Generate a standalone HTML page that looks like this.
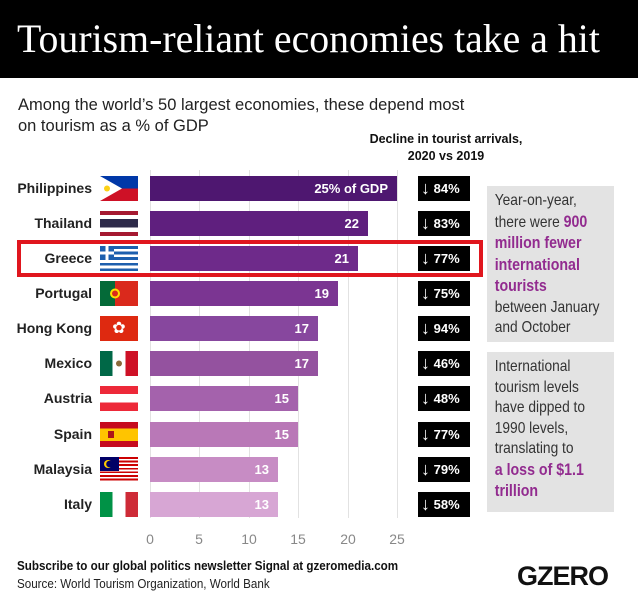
<!DOCTYPE html>
<html><head><meta charset="utf-8"><style>
*{margin:0;padding:0;box-sizing:border-box}
body{width:638px;height:599px;background:#fff;font-family:"Liberation Sans",sans-serif;position:relative;overflow:hidden}
.abs{position:absolute}
.title{left:0;top:0;width:638px;height:78px;background:#000;color:#fff;font-family:"Liberation Serif",serif;font-size:39.8px;line-height:78px;padding-left:17px;white-space:nowrap}
.sub{left:18px;top:95px;font-size:16.5px;line-height:21px;color:#222}
.dh{left:362px;top:131px;width:168px;text-align:center;font-size:12.5px;font-weight:bold;line-height:17px;color:#111}
.grid{top:170px;width:1px;height:348px;background:#e2e2e2}
.name{width:92px;text-align:right;font-size:14px;font-weight:bold;color:#222;left:0}
.bar{left:150px;height:25px;color:#fff;font-weight:bold;font-size:13px;text-align:right;padding-right:9px;line-height:25px}
.flag{left:100px;width:38px;height:25px;overflow:hidden}
.badge{left:418px;width:52px;height:25px;background:#000;color:#fff;font-weight:bold;font-size:13px;line-height:25px;padding-left:3px;white-space:nowrap}
.badge span{font-size:18px;vertical-align:-1px}
.tick{top:531px;font-size:14px;color:#888;width:30px;text-align:center}
.box{left:487px;width:127px;background:#e3e3e3;overflow:hidden}
.box div{width:160px;transform:scaleX(0.86);transform-origin:0 0;font-size:16px;line-height:20.5px;color:#333;padding:5px 0 0 9px;white-space:nowrap}
.box b{color:#922b8f;font-size:16.5px}
</style></head><body>
<div class="abs title">Tourism-reliant economies take a hit</div>
<div class="abs sub">Among the world’s 50 largest economies, these depend most<br>on tourism as a % of GDP</div>
<div class="abs dh">Decline in tourist arrivals,<br>2020 vs 2019</div>
<div class="abs grid" style="left:150px"></div>
<div class="abs grid" style="left:199px"></div>
<div class="abs grid" style="left:249px"></div>
<div class="abs grid" style="left:298px"></div>
<div class="abs grid" style="left:348px"></div>
<div class="abs grid" style="left:397px"></div>
<div class="abs tick" style="left:135px">0</div>
<div class="abs tick" style="left:184px">5</div>
<div class="abs tick" style="left:234px">10</div>
<div class="abs tick" style="left:283px">15</div>
<div class="abs tick" style="left:333px">20</div>
<div class="abs tick" style="left:382px">25</div>

<div class="abs name" style="top:180px">Philippines</div>
<div class="abs flag" style="top:176px;background:linear-gradient(#0038a8 50%,#ce1126 50%)"><svg width="38" height="25"><polygon points="0,0 22,12.5 0,25" fill="#fff"/><circle cx="7" cy="12.5" r="3" fill="#fcd116"/></svg></div>
<div class="abs bar" style="top:176px;width:247px;background:#4e1770">25% of GDP</div>
<div class="abs badge" style="top:176px"><span>↓</span> 84%</div>

<div class="abs name" style="top:215px">Thailand</div>
<div class="abs flag" style="top:211px;background:linear-gradient(#a51931 16%,#fff 16%,#fff 33%,#2d2a4a 33%,#2d2a4a 67%,#fff 67%,#fff 84%,#a51931 84%)"></div>
<div class="abs bar" style="top:211px;width:218px;background:#5f1f7e">22</div>
<div class="abs badge" style="top:211px"><span>↓</span> 83%</div>

<div class="abs name" style="top:250px">Greece</div>
<div class="abs flag" style="top:246px;background:repeating-linear-gradient(#1d5fae 0,#1d5fae 2.8px,#fff 2.8px,#fff 5.6px)"><svg width="38" height="25"><rect width="14" height="14" fill="#1d5fae"/><rect x="5.5" width="3" height="14" fill="#fff"/><rect y="5.5" width="14" height="3" fill="#fff"/></svg></div>
<div class="abs bar" style="top:246px;width:208px;background:#6e2a8a">21</div>
<div class="abs badge" style="top:246px"><span>↓</span> 77%</div>

<div class="abs name" style="top:285px">Portugal</div>
<div class="abs flag" style="top:281px;background:linear-gradient(90deg,#046a38 40%,#da291c 40%)"><svg width="38" height="25"><circle cx="15" cy="12.5" r="5" fill="#ffe000"/><circle cx="15" cy="12.5" r="3" fill="#da291c"/></svg></div>
<div class="abs bar" style="top:281px;width:188px;background:#7b3592">19</div>
<div class="abs badge" style="top:281px"><span>↓</span> 75%</div>

<div class="abs name" style="top:320px">Hong Kong</div>
<div class="abs flag" style="top:316px;background:#de2910;color:#fff;text-align:center;font-size:16px;line-height:25px">✿</div>
<div class="abs bar" style="top:316px;width:168px;background:#87479e">17</div>
<div class="abs badge" style="top:316px"><span>↓</span> 94%</div>

<div class="abs name" style="top:355px">Mexico</div>
<div class="abs flag" style="top:351px;background:linear-gradient(90deg,#006847 33%,#fff 33%,#fff 67%,#ce1126 67%)"><svg width="38" height="25"><circle cx="19" cy="12.5" r="3" fill="#8a6a3a"/></svg></div>
<div class="abs bar" style="top:351px;width:168px;background:#94529f">17</div>
<div class="abs badge" style="top:351px"><span>↓</span> 46%</div>

<div class="abs name" style="top:390px">Austria</div>
<div class="abs flag" style="top:386px;background:linear-gradient(#ed2939 33%,#fff 33%,#fff 67%,#ed2939 67%)"></div>
<div class="abs bar" style="top:386px;width:148px;background:#a462ac">15</div>
<div class="abs badge" style="top:386px"><span>↓</span> 48%</div>

<div class="abs name" style="top:426px">Spain</div>
<div class="abs flag" style="top:422px;background:linear-gradient(#c60b1e 25%,#ffc400 25%,#ffc400 75%,#c60b1e 75%)"><svg width="38" height="25"><rect x="8" y="9" width="6" height="7" fill="#ad1519"/></svg></div>
<div class="abs bar" style="top:422px;width:148px;background:#b978b7">15</div>
<div class="abs badge" style="top:422px"><span>↓</span> 77%</div>

<div class="abs name" style="top:461px">Malaysia</div>
<div class="abs flag" style="top:457px;background:repeating-linear-gradient(#cc0001 0,#cc0001 1.8px,#fff 1.8px,#fff 3.6px)"><svg width="38" height="25"><rect width="19" height="14" fill="#010066"/><circle cx="8" cy="7" r="4" fill="#fc0"/><circle cx="9.5" cy="7" r="3.3" fill="#010066"/></svg></div>
<div class="abs bar" style="top:457px;width:128px;background:#c78cc4">13</div>
<div class="abs badge" style="top:457px"><span>↓</span> 79%</div>

<div class="abs name" style="top:496px">Italy</div>
<div class="abs flag" style="top:492px;background:linear-gradient(90deg,#009246 33%,#fff 33%,#fff 67%,#ce2b37 67%)"></div>
<div class="abs bar" style="top:492px;width:128px;background:#d7a6d4">13</div>
<div class="abs badge" style="top:492px"><span>↓</span> 58%</div>

<div class="abs" style="left:17px;top:240px;width:466px;height:37px;border:4px solid #e0161e"></div>

<div class="abs box" style="top:186px;height:156px"><div>Year-on-year,<br>there were <b>900</b><br><b>million fewer</b><br><b>international</b><br><b>tourists</b><br>between January<br>and October</div></div>
<div class="abs box" style="top:352px;height:160px"><div>International<br>tourism levels<br>have dipped to<br>1990 levels,<br>translating to<br><b>a loss of $1.1</b><br><b>trillion</b></div></div>

<div class="abs" style="left:17px;top:559px;font-size:12.5px;font-weight:bold;color:#111;transform:scaleX(0.93);transform-origin:0 0;white-space:nowrap">Subscribe to our global politics newsletter Signal at gzeromedia.com</div>
<div class="abs" style="left:17px;top:577px;font-size:12.5px;color:#222;transform:scaleX(0.93);transform-origin:0 0;white-space:nowrap">Source: World Tourism Organization, World Bank</div>
<div class="abs" style="left:517px;top:561px;font-size:27px;font-weight:bold;color:#111;letter-spacing:-1px">GZERO</div>
</body></html>
